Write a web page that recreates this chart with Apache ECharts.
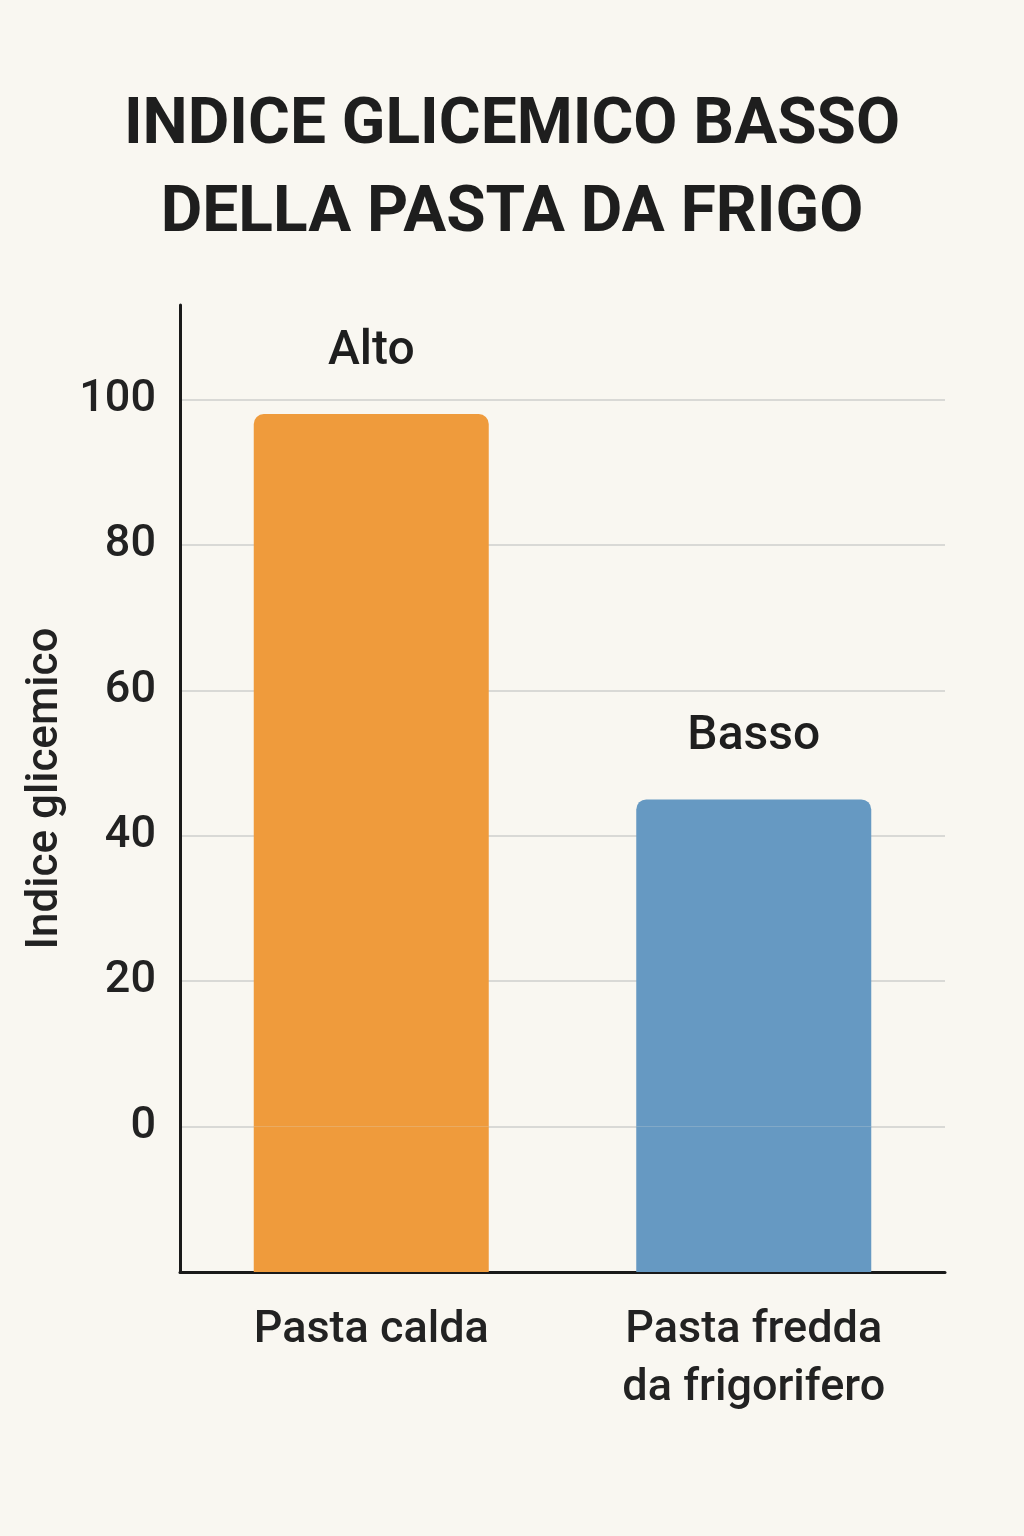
<!DOCTYPE html>
<html><head><meta charset="utf-8">
<script src="https://cdn.jsdelivr.net/npm/echarts@6/dist/echarts.min.js"></script>
<style>html,body{margin:0;background:#f9f7f1}#c{width:1024px;height:1536px}</style>
</head><body><div id="c"></div>
<script>
const categories = ['Pasta calda', 'Pasta fredda\nda frigorifero'];
const values = [98, 45];
const barLabels = ['Alto', 'Basso'];
const colors = ['#ef9b3c', '#6699c2'];
const chart = echarts.init(document.getElementById('c'));
chart.setOption({
  backgroundColor: '#f9f7f1',
  title: {text: 'INDICE GLICEMICO BASSO\nDELLA PASTA DA FRIGO', left: 'center', top: 78,
    textStyle: {fontFamily: 'Roboto', fontWeight: 'bold', fontSize: 64, lineHeight: 88, color: '#1e1e1e'}},
  grid: {left: 180, right: 79, top: 305, bottom: 264},
  xAxis: {type: 'category', data: categories,
    axisLine: {onZero: false, lineStyle: {color: '#1a1a1a', width: 3}}, axisTick: {show: false},
    axisLabel: {fontFamily: 'Roboto', fontWeight: 500, fontSize: 45, color: '#222', margin: 30, lineHeight: 58}},
  yAxis: {type: 'value', min: -20, max: 113, interval: 20,
    name: 'Indice glicemico', nameLocation: 'middle', nameGap: 100, nameRotate: 90,
    nameTextStyle: {fontFamily: 'Roboto', fontWeight: 500, fontSize: 44, color: '#222'},
    axisLine: {show: true, lineStyle: {color: '#1a1a1a', width: 3}}, axisTick: {show: false},
    axisLabel: {fontFamily: 'Roboto', fontWeight: 500, fontSize: 45, color: '#222', margin: 24,
      formatter: v => (v < 0 ? '' : v), showMaxLabel: false},
    splitLine: {showMinLine: false, showMaxLine: false, lineStyle: {color: '#d9d9d6', width: 2}}},
  series: [
    {type: 'bar', barWidth: 235, barGap: '-100%', silent: true,
     data: values.map((v, i) => ({value: -20, itemStyle: {color: colors[i]}}))},
    {type: 'bar', barWidth: 235, barGap: '-100%',
     data: values.map((v, i) => ({value: v, itemStyle: {color: colors[i], borderRadius: [10, 10, 0, 0]},
       label: {show: true, position: 'top', distance: 38, formatter: barLabels[i],
         fontFamily: 'Roboto', fontWeight: 500, fontSize: 48, color: '#1e1e1e'}}))}
  ]
});
</script></body></html>
